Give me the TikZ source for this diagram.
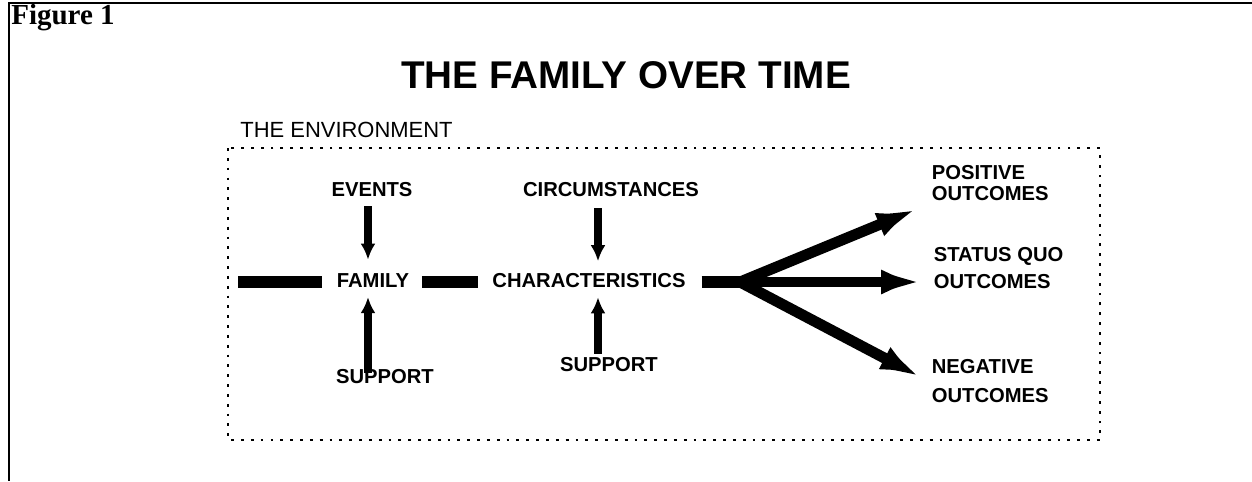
\documentclass[tikz,border=0pt]{standalone}
\usepackage{fontspec}
\setmainfont{Liberation Serif}
\newfontfamily\arialfont{Liberation Sans}
\usetikzlibrary{arrows.meta,positioning}
\tikzset{
  lbl/.style={font=\arialfont\bfseries\fontsize{11.5}{13}\selectfont,inner sep=2pt,align=left},
  bar/.style={line width=6.8pt,draw=black},
  varr/.style={-{Latex[length=0.32cm,width=0.3cm]},line width=5pt,draw=black},
  farr/.style={-{Latex[length=1.05cm,width=0.46cm]},line width=6.2pt,draw=black},
  envbox/.style={draw=black,line width=1.6pt,dash pattern=on 1.6pt off 4pt}
}
\begin{document}
\begin{tikzpicture}[x=0.02cm,y=-0.02cm]
  \useasboundingbox (0,0) rectangle (1252,481);
  % frame of the figure
  \draw[line width=1.6pt] (1252,3) -- (9,3) -- (9,481);
  \node[font=\bfseries\fontsize{16.5}{18}\selectfont,anchor=west,inner sep=0pt] (fig) at (11,18) {Figure 1};
  \node[font=\arialfont\bfseries\fontsize{22}{25}\selectfont,inner sep=0pt] (title) at (626,75) {THE FAMILY OVER TIME};
  % the environment
  \node[font=\arialfont\fontsize{12.5}{14}\selectfont,anchor=west,inner sep=0pt] (env) at (240,130) {THE ENVIRONMENT};
  \draw[envbox] (228,148) rectangle (1100,440);
  % labels
  \node[lbl] (events) at (372,190) {EVENTS};
  \node[lbl] (circ) at (611,190) {CIRCUMSTANCES};
  \node[lbl] (family) at (373,281) {FAMILY};
  \node[lbl] (char) at (589,281) {CHARACTERISTICS};
  \node[lbl] (supl) at (385,377) {SUPPORT};
  \node[lbl] (supr) at (609,365) {SUPPORT};
  \node[lbl,anchor=west] (pos) at (928,183) {POSITIVE\\[-1pt]OUTCOMES};
  \node[lbl,anchor=west] (sq) at (930,268) {STATUS QUO\\[2pt]OUTCOMES};
  \node[lbl,anchor=west] (neg) at (928,381) {NEGATIVE\\[3pt]OUTCOMES};
  \coordinate (start) at (238,282);
  \coordinate (fork) at (740,282);
  \coordinate (lcol) at (368,0);
  \coordinate (rcol) at (598,0);
  % bars
  \draw[bar] (start) -- ([xshift=-6pt]family.west |- start);
  \draw[bar,shorten <=5pt,shorten >=6pt] (family.east |- start) -- (char.west |- start);
  \draw[bar,shorten <=7pt] (char.east |- fork) -- (fork);
  % vertical arrows
  \draw[varr,shorten <=3pt,shorten >=6pt] (events.south -| lcol) -- (family.north -| lcol);
  \draw[varr,shorten <=4pt,shorten >=5pt] (circ.south -| rcol) -- (char.north -| rcol);
  \draw[varr,shorten <=-4pt,shorten >=3pt] (supl.north -| lcol) -- (family.south -| lcol);
  \draw[varr,shorten <=0pt,shorten >=3pt] (supr.north -| rcol) -- (char.south -| rcol);
  % outcomes
  \draw[farr] (fork) -- (pos.south west);
  \draw[farr,shorten >=-2pt] (fork) -- (sq.west |- fork);
  \draw[farr,shorten >=-2pt] (fork) -- (neg.west);
\end{tikzpicture}
\end{document}
